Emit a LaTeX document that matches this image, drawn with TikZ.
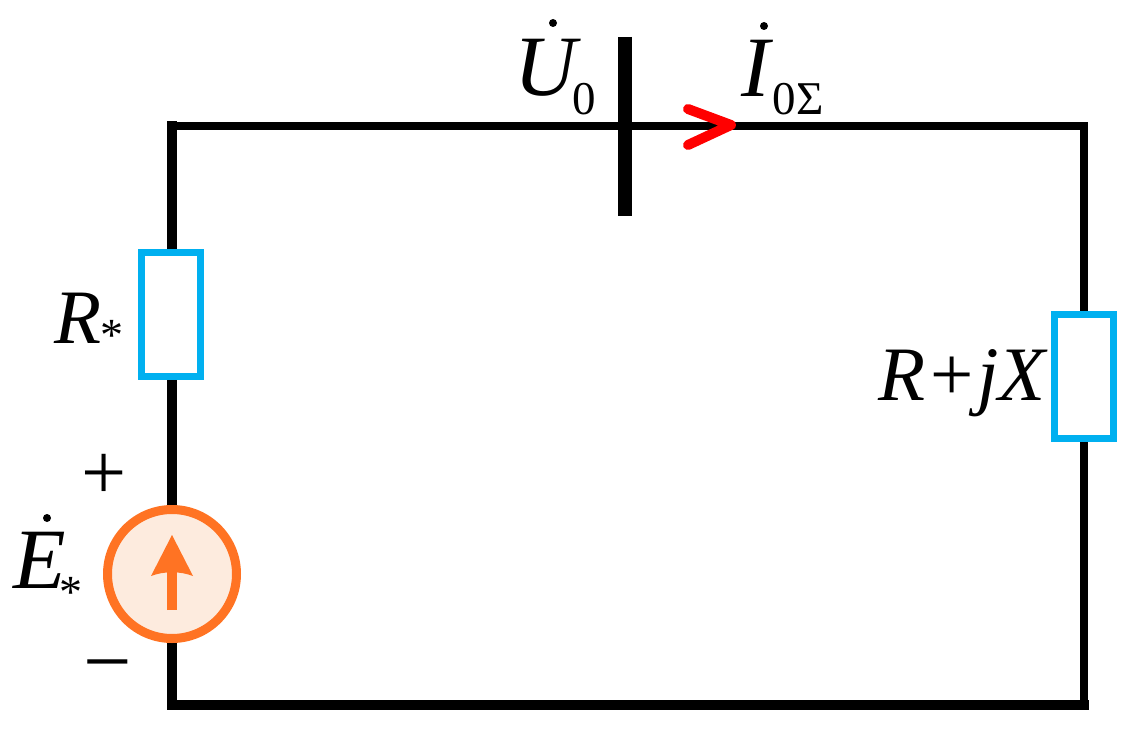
\documentclass[tikz,border=0pt]{standalone}
\usepackage{amsmath}
\usepackage{fontspec}
\setmainfont{Liberation Serif}
\usetikzlibrary{arrows}
\definecolor{boxblue}{RGB}{0,176,240}
\definecolor{srcorange}{RGB}{255,115,35}
\definecolor{srcfill}{RGB}{253,235,222}
\tikzset{
  wire/.style={line width=8.5pt,line cap=rect},
  loadbox/.style={draw=boxblue,line width=7pt,fill=white,minimum width=59pt,minimum height=124pt,inner sep=0pt},
  lbl/.style={inner sep=0pt,font=\fontsize{77}{80}\selectfont\itshape},
  biglbl/.style={inner sep=0pt,font=\fontsize{86}{90}\selectfont\itshape},
  sublbl/.style={inner sep=0pt,font=\fontsize{47}{50}\selectfont},
  starlbl/.style={inner sep=0pt,font=\fontsize{46}{48}\selectfont},
  dotmark/.style={circle,fill=black,inner sep=0pt,minimum size=8pt}
}
\begin{document}
\begin{tikzpicture}[x=1pt,y=-1pt]
  \useasboundingbox (0,0) rectangle (1139,743);
  \coordinate (tl) at (172,126);
  \coordinate (tr) at (1084,126);
  \coordinate (bl) at (172,705);
  \coordinate (br) at (1084,705);
  % wires
  \draw[wire] (tl) -- (tr) -- (br);
  \draw[wire,line width=10pt] (tl) -- (bl) -- (br);
  \node[loadbox] (rs) at (171,314.5) {};
  \node[loadbox] (rl) at (1083.5,376.5) {};
  % source
  \node[circle,draw=srcorange,fill=srcfill,line width=9pt,minimum size=129pt,inner sep=0pt] (src) at (172,574) {};
  \coordinate (arrowbot) at (172,610);
  \coordinate (arrowtop) at (172,535);
  \draw[srcorange,line width=10pt] (arrowbot) -- (172,568);
  \fill[srcorange] (arrowtop) -- (193,576) .. controls (180,571) and (164,571) .. (151,576) -- cycle;
  % switch and current arrow
  \coordinate (captop) at (625,37);
  \coordinate (capbot) at (625,216);
  \draw[line width=14pt] (captop) -- (capbot);
  \coordinate (chevtip) at (731,125);
  \draw[red,line width=10pt,line cap=round,line join=round] (688,109) -- (chevtip) -- (688,145);
  % labels
  \node[lbl] (lr) at (78,318) {R};
  \node[starlbl] (lrs) at (112,335) {*};
  \node[lbl] (lrx) at (962,383) {R+jX};
  \node[font=\fontsize{80}{80}\selectfont,inner sep=0pt] (plus) at (104,477) {+};
  \node[font=\fontsize{86}{86}\selectfont,inner sep=0pt] (minus) at (108,675) {\textminus};
  \node[biglbl] (le) at (40,560) {E};
  \node[dotmark] (ledot) at (47,518) {};
  \node[starlbl] (les) at (71,592) {*};
  \node[biglbl] (lu) at (546,68) {U};
  \node[dotmark] (ludot) at (553,23) {};
  \node[sublbl] (lu0) at (584,99) {0};
  \node[biglbl] (li) at (756,68) {I};
  \node[dotmark] (lidot) at (764,26) {};
  \node[sublbl] (li0) at (798,99) {0Σ};
\end{tikzpicture}
\end{document}
